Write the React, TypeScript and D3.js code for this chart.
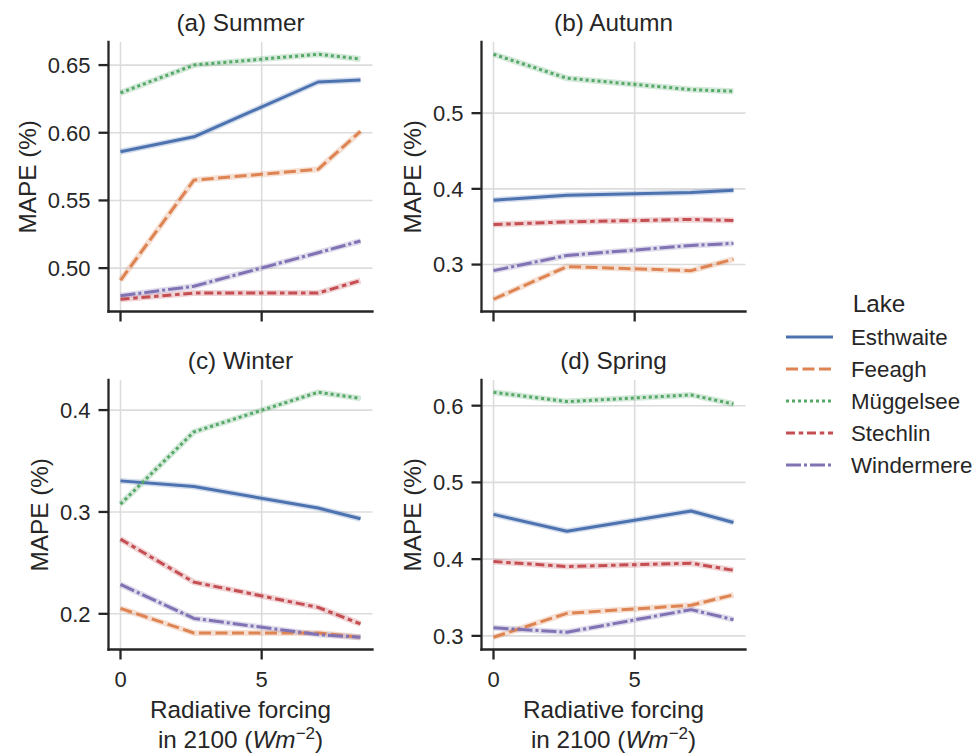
import React from "react";
import * as d3 from "d3";

// ---------- data ----------
const xValues = [0, 2.6, 7.0, 8.5];
const lakes = ["Esthwaite", "Feeagh", "Müggelsee", "Stechlin", "Windermere"];
const lakeColors = ["#4C72B0", "#DD8452", "#55A868", "#C44E52", "#8172B3"];
const lakeDashes = [[], [4, 1.5], [1, 1], [3, 1.25, 1.5, 1.25], [5, 1, 1, 1]];

const seasonTitles = ["(a) Summer", "(b) Autumn", "(c) Winter", "(d) Spring"];

// rows follow the order of `lakes`
const summerValues = [
  [0.586, 0.597, 0.6375, 0.639],
  [0.491, 0.565, 0.573, 0.601],
  [0.6295, 0.65, 0.658, 0.6545],
  [0.477, 0.4816, 0.4816, 0.4908],
  [0.4796, 0.4866, 0.5114, 0.52],
];
const autumnValues = [
  [0.385, 0.3916, 0.3951, 0.3982],
  [0.2542, 0.2973, 0.292, 0.3071],
  [0.5778, 0.5462, 0.5311, 0.5289],
  [0.3529, 0.3564, 0.3596, 0.3582],
  [0.292, 0.312, 0.3253, 0.328],
];
const winterValues = [
  [0.3305, 0.3249, 0.3038, 0.2933],
  [0.2053, 0.1812, 0.1812, 0.177],
  [0.3077, 0.3786, 0.4175, 0.4115],
  [0.2733, 0.2311, 0.2063, 0.1901],
  [0.2288, 0.1955, 0.1796, 0.177],
];
const springValues = [
  [0.4583, 0.4364, 0.4627, 0.4478],
  [0.2982, 0.3294, 0.3399, 0.3535],
  [0.6175, 0.6053, 0.614, 0.6022],
  [0.3969, 0.3904, 0.3947, 0.3855],
  [0.3105, 0.3048, 0.3342, 0.3211],
];

const summerTicks = [0.5, 0.55, 0.6, 0.65];
const autumnTicks = [0.3, 0.4, 0.5];
const winterTicks = [0.2, 0.3, 0.4];
const springTicks = [0.3, 0.4, 0.5, 0.6];
const xTicks = [0, 5];

const yLabelText = "MAPE (%)";
const xLabelLine1 = "Radiative forcing";
const legendTitle = "Lake";

// ---------- style ----------
const FONT = "'Liberation Sans', Arial, Helvetica, sans-serif";
const INK = "#262626";
const GRID = "#dcdcdc";
const TICK_FS = 22;
const LABEL_FS = 24.3;
const LEGEND_FS = 22.3;
const LW = 3;

const PW = 264;
const PH = 269.5;
const COLS = [108.5, 481.5];
const ROWS = [42, 380];

function measure(text: string, size: number): number {
  try {
    const c = document.createElement("canvas");
    const ctx = c.getContext("2d");
    if (ctx) {
      ctx.font = `${size}px 'Liberation Sans', Arial, sans-serif`;
      return ctx.measureText(text).width;
    }
  } catch (e) {}
  return text.length * size * 0.55;
}

type PanelProps = {
  left: number;
  top: number;
  values: number[][];
  ticks: number[];
  fmt: string;
  title: string;
  showX: boolean;
};

function Panel({ left, top, values, ticks, fmt, title, showX }: PanelProps) {
  const xExt = d3.extent(xValues) as [number, number];
  const xPad = (xExt[1] - xExt[0]) * 0.05;
  const x = d3.scaleLinear().domain([xExt[0] - xPad, xExt[1] + xPad]).range([left, left + PW]);
  const all = values.flat();
  const yExt = d3.extent(all) as [number, number];
  const yPad = (yExt[1] - yExt[0]) * 0.05;
  const y = d3.scaleLinear().domain([yExt[0] - yPad, yExt[1] + yPad]).range([top + PH, top]);
  const f = d3.format(fmt);
  const line = d3
    .line<number>()
    .x((_, i) => x(xValues[i]))
    .y((d) => y(d));

  const bottom = top + PH;
  const right = left + PW;
  const tickLen = 10;
  const labelRight = left - tickLen - 8;
  const maxW = Math.max(...ticks.map((t) => measure(f(t), TICK_FS)));
  const yLabX = labelRight - maxW - 12;
  const cx = (left + right) / 2;

  return (
    <g>
      {/* grid */}
      {ticks.map((t) => (
        <line key={"gy" + t} x1={left} x2={right} y1={y(t)} y2={y(t)} stroke={GRID} strokeWidth={1.6} />
      ))}
      {xTicks.map((t) => (
        <line key={"gx" + t} x1={x(t)} x2={x(t)} y1={top} y2={bottom} stroke={GRID} strokeWidth={1.6} />
      ))}
      {/* lines */}
      {values.map((row, i) => (
        <path
          key={"h" + i}
          d={line(row) || ""}
          fill="none"
          stroke={lakeColors[i]}
          strokeOpacity={0.25}
          strokeWidth={LW + 3}
        />
      ))}
      {values.map((row, i) => (
        <path
          key={"l" + i}
          d={line(row) || ""}
          fill="none"
          stroke={lakeColors[i]}
          strokeWidth={LW}
          strokeDasharray={lakeDashes[i].length ? lakeDashes[i].map((d) => d * LW).join(" ") : undefined}
          strokeLinecap="butt"
          strokeLinejoin="round"
        />
      ))}
      {/* spines */}
      <line x1={left} x2={right} y1={bottom} y2={bottom} stroke={INK} strokeWidth={2.3} strokeLinecap="square" />
      <line x1={left} x2={left} y1={top} y2={bottom} stroke={INK} strokeWidth={2.3} strokeLinecap="square" />
      {/* y ticks */}
      {ticks.map((t) => (
        <g key={"ty" + t}>
          <line x1={left - tickLen} x2={left} y1={y(t)} y2={y(t)} stroke={INK} strokeWidth={2.3} />
          <text
            x={labelRight}
            y={y(t)}
            dy="0.36em"
            textAnchor="end"
            fontSize={TICK_FS}
            fontFamily={FONT}
            fill={INK}
          >
            {f(t)}
          </text>
        </g>
      ))}
      {/* x ticks */}
      {xTicks.map((t) => (
        <g key={"tx" + t}>
          <line x1={x(t)} x2={x(t)} y1={bottom} y2={bottom + tickLen} stroke={INK} strokeWidth={2.3} />
          {showX && (
            <text x={x(t)} y={bottom + 37} textAnchor="middle" fontSize={TICK_FS} fontFamily={FONT} fill={INK}>
              {t}
            </text>
          )}
        </g>
      ))}
      {/* title */}
      <text x={cx} y={top - 11} textAnchor="middle" fontSize={LABEL_FS} fontFamily={FONT} fill={INK}>
        {title}
      </text>
      {/* y label */}
      <text
        transform={`translate(${yLabX},${top + PH / 2}) rotate(-90)`}
        textAnchor="middle"
        fontSize={LABEL_FS}
        fontFamily={FONT}
        fill={INK}
      >
        {yLabelText}
      </text>
      {showX && (
        <g>
          <text x={cx} y={bottom + 68} textAnchor="middle" fontSize={LABEL_FS} fontFamily={FONT} fill={INK}>
            {xLabelLine1}
          </text>
          <text x={cx} y={bottom + 98} textAnchor="middle" fontSize={LABEL_FS} fontFamily={FONT} fill={INK}>
            {"in 2100 ("}
            <tspan fontStyle="italic">Wm</tspan>
            <tspan dy={-9} fontSize={LABEL_FS * 0.7}>
              {"\u22122"}
            </tspan>
            <tspan dy={9}>{")"}</tspan>
          </text>
        </g>
      )}
    </g>
  );
}

function Legend() {
  const y = d3.scalePoint<string>().domain(lakes).range([337, 465]);
  const x0 = 786;
  const x1 = 833;
  return (
    <g>
      <text x={879} y={312} textAnchor="middle" fontSize={LABEL_FS} fontFamily={FONT} fill={INK}>
        {legendTitle}
      </text>
      {lakes.map((name, i) => (
        <g key={name}>
          <line
            x1={x0}
            x2={x1}
            y1={y(name)}
            y2={y(name)}
            stroke={lakeColors[i]}
            strokeWidth={LW}
            strokeDasharray={lakeDashes[i].length ? lakeDashes[i].map((d) => d * LW).join(" ") : undefined}
          />
          <text
            x={851}
            y={y(name)}
            dy="0.36em"
            fontSize={LEGEND_FS}
            fontFamily={FONT}
            fill={INK}
          >
            {name}
          </text>
        </g>
      ))}
    </g>
  );
}

export default function App() {
  const panels = [
    { values: summerValues, ticks: summerTicks, fmt: ".2f" },
    { values: autumnValues, ticks: autumnTicks, fmt: ".1f" },
    { values: winterValues, ticks: winterTicks, fmt: ".1f" },
    { values: springValues, ticks: springTicks, fmt: ".1f" },
  ];
  return (
    <svg
      width={974}
      height={753}
      viewBox="0 0 974 753"
      style={{ position: "absolute", left: 0, top: 0, background: "#fff" }}
    >
      <rect x={0} y={0} width={974} height={753} fill="#fff" />
      {panels.map((p, i) => (
        <Panel
          key={i}
          left={COLS[i % 2]}
          top={ROWS[Math.floor(i / 2)]}
          values={p.values}
          ticks={p.ticks}
          fmt={p.fmt}
          title={seasonTitles[i]}
          showX={i >= 2}
        />
      ))}
      <Legend />
    </svg>
  );
}
